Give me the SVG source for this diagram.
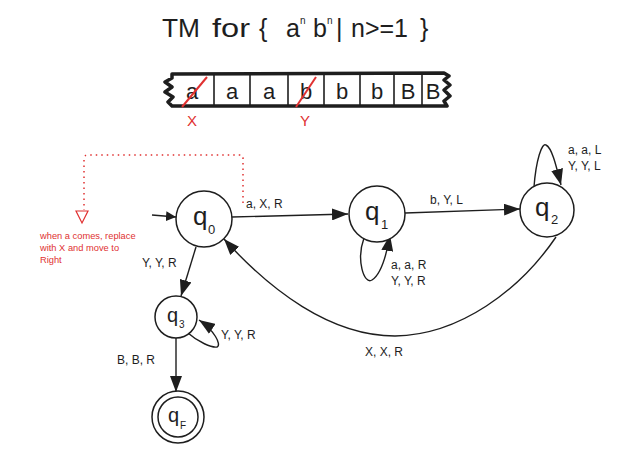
<svg xmlns="http://www.w3.org/2000/svg" width="638" height="462" viewBox="0 0 638 462">
<defs>
<style>
.t{font-family:"Liberation Sans",Arial,sans-serif;fill:#1e1e1e}
.lbl{font-family:"Liberation Sans",Arial,sans-serif;font-size:12px;fill:#1e1e1e}
.st{fill:#fff;stroke:#1e1e1e;stroke-width:1.5}
.e{fill:none;stroke:#1e1e1e;stroke-width:1.4}
.red{font-family:"Liberation Sans",Arial,sans-serif;fill:#e03131}
</style>
<marker id="ah" viewBox="0 0 10 10" refX="10" refY="5" markerWidth="10" markerHeight="10" markerUnits="userSpaceOnUse" orient="auto">
<path d="M0,0 L10,5 L0,10 z" fill="#1e1e1e"/>
</marker>
<marker id="ahb" viewBox="0 0 16 12" refX="16" refY="6" markerWidth="16" markerHeight="12" markerUnits="userSpaceOnUse" orient="auto">
<path d="M0,0 L16,6 L0,12 z" fill="#1e1e1e"/>
</marker>
</defs>
<rect width="638" height="462" fill="#fff"/>

<g id="title">
<text class="t" x="162" y="37" font-size="25" textLength="38" lengthAdjust="spacingAndGlyphs">TM</text>
<text class="t" x="212" y="37" font-size="25" textLength="38" lengthAdjust="spacingAndGlyphs">for</text>
<text class="t" x="259" y="37" font-size="25">{</text>
<text class="t" x="286" y="37" font-size="25">a</text>
<text class="t" x="300" y="24" font-size="10">n</text>
<text class="t" x="313" y="37" font-size="25">b</text>
<text class="t" x="327" y="24" font-size="10">n</text>
<text class="t" x="336" y="37" font-size="25">|</text>
<text class="t" x="351" y="37" font-size="25" textLength="57" lengthAdjust="spacingAndGlyphs">n&gt;=1</text>
<text class="t" x="420" y="37" font-size="25">}</text>
</g>

<g id="tape">
<path d="M172,74 L444,73 L449,76 L444,80 L450,85 L444,90 L450,96 L444,101 L447,106 L172,106 L168,102 L173,97 L165,92 L172,87 L165,82 L172,78 Z" fill="#fff" stroke="#1e1e1e" stroke-width="3.5" stroke-linejoin="round"/>
<g stroke="#1e1e1e" stroke-width="1.6">
<line x1="214" y1="75" x2="214" y2="105"/>
<line x1="250" y1="75" x2="250" y2="105"/>
<line x1="288" y1="75" x2="288" y2="105"/>
<line x1="324" y1="75" x2="324" y2="105"/>
<line x1="360" y1="75" x2="360" y2="105"/>
<line x1="394" y1="75" x2="394" y2="105"/>
<line x1="422" y1="75" x2="422" y2="105"/>
</g>
<g class="t" font-size="22" text-anchor="middle">
<text x="192" y="99">a</text>
<text x="232" y="99">a</text>
<text x="269" y="99">a</text>
<text x="306" y="99">b</text>
<text x="342" y="99">b</text>
<text x="377" y="99">b</text>
<text x="408" y="99">B</text>
<text x="433" y="99">B</text>
</g>
<line x1="182" y1="107" x2="207" y2="77" stroke="#e03131" stroke-width="2"/>
<line x1="296" y1="107" x2="316" y2="77" stroke="#e03131" stroke-width="2"/>
<text class="red" x="192" y="126" font-size="15" text-anchor="middle">X</text>
<text class="red" x="305" y="126" font-size="15" text-anchor="middle">Y</text>
</g>

<g id="note">
<path d="M243,203 L243,158 Q243,155 240,155 L88,155 Q84,155 84,159 L84,210" fill="none" stroke="#e03131" stroke-width="1.5" stroke-dasharray="1.5,4"/>
<path d="M76,211 L88,211 L82,223 Z" fill="#fff" stroke="#e03131" stroke-width="1.2"/>
<text class="red" font-size="9.3"><tspan x="40" y="239">when a comes, replace</tspan><tspan x="40" y="251">with X and move to</tspan><tspan x="40" y="263">Right</tspan></text>
</g>

<g id="edges">
<line class="e" x1="152" y1="215" x2="176" y2="217" marker-end="url(#ah)"/>
<line class="e" x1="232" y1="217" x2="348" y2="214" marker-end="url(#ahb)"/>
<line class="e" x1="405" y1="213" x2="520" y2="209" marker-end="url(#ahb)"/>
<path class="e" d="M364,238 C356,260 364,285 372,280 C380,275 386,258 390,235" marker-end="url(#ahb)"/>
<path class="e" d="M534,187 C536,160 542,142 546,145 C552,148 556,165 561,185" marker-end="url(#ahb)"/>
<path class="e" d="M556,237 C520,290 460,335 395,336 C330,336 270,290 224,239" marker-end="url(#ahb)"/>
<line class="e" x1="196" y1="247" x2="181" y2="296" marker-end="url(#ahb)"/>
<path class="e" d="M188,333 C198,342 212,348 217,347 C222,345 214,330 199,320" marker-end="url(#ahb)"/>
<line class="e" x1="176" y1="338" x2="176" y2="392" marker-end="url(#ahb)"/>
<text class="lbl" x="246" y="208">a, X, R</text>
<text class="lbl" x="430" y="204">b, Y, L</text>
<text class="lbl" x="391" y="269">a, a, R</text>
<text class="lbl" x="391" y="285">Y, Y, R</text>
<text class="lbl" x="568" y="154">a, a, L</text>
<text class="lbl" x="568" y="170">Y, Y, L</text>
<text class="lbl" x="365" y="356">X, X, R</text>
<text class="lbl" x="142" y="267">Y, Y, R</text>
<text class="lbl" x="221" y="339">Y, Y, R</text>
<text class="lbl" x="117" y="364">B, B, R</text>
</g>

<g id="q0">
<circle class="st" cx="204" cy="219" r="28"/>
<text class="t" x="193" y="225" font-size="26">q</text><text class="t" x="208" y="234" font-size="13">0</text>
</g>
<g id="q1">
<circle class="st" cx="377" cy="214" r="28"/>
<text class="t" x="365" y="220" font-size="26">q</text><text class="t" x="381" y="229" font-size="13">1</text>
</g>
<g id="q2">
<circle class="st" cx="547" cy="210" r="27"/>
<text class="t" x="535" y="216" font-size="26">q</text><text class="t" x="551" y="224" font-size="13">2</text>
</g>
<g id="q3">
<circle class="st" cx="176" cy="317" r="21"/>
<text class="t" x="167" y="322" font-size="20">q</text><text class="t" x="179" y="328" font-size="10">3</text>
</g>
<g id="qF">
<circle class="st" cx="178" cy="417" r="26"/>
<circle class="st" cx="178" cy="417" r="20"/>
<text class="t" x="168" y="422" font-size="20">q</text><text class="t" x="180" y="429" font-size="10">F</text>
</g>
</svg>
